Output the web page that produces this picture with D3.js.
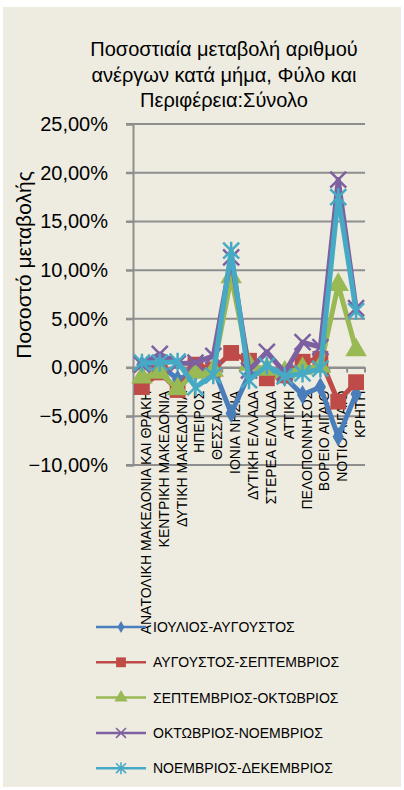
<!DOCTYPE html>
<html>
<head>
<meta charset="utf-8">
<script src="https://cdn.jsdelivr.net/npm/d3@7"></script>
<style>
  html, body { margin: 0; padding: 0; background: #fff; }
  svg { display: block; }
  text { font-family: "Liberation Sans", "DejaVu Sans", sans-serif; fill: #000; }
</style>
</head>
<body>
<svg id="chart" width="404" height="790"></svg>
<script>
// regions (x axis)
const categories = [
  'ΑΝΑΤΟΛΙΚΗ ΜΑΚΕΔΟΝΙΑ ΚΑΙ ΘΡΑΚΗ', 'ΚΕΝΤΡΙΚΗ ΜΑΚΕΔΟΝΙΑ', 'ΔΥΤΙΚΗ ΜΑΚΕΔΟΝΙΑ',
  'ΗΠΕΙΡΟΣ', 'ΘΕΣΣΑΛΙΑ', 'ΙΟΝΙΑ ΝΗΣΙΑ', 'ΔΥΤΙΚΗ ΕΛΛΑΔΑ', 'ΣΤΕΡΕΑ ΕΛΛΑΔΑ',
  'ΑΤΤΙΚΗ', 'ΠΕΛΟΠΟΝΝΗΣΟΣ', 'ΒΟΡΕΙΟ ΑΙΓΑΙΟ', 'ΝΟΤΙΟ ΑΙΓΑΙΟ', 'ΚΡΗΤΗ'
];
const seriesNames = [
  'ΙΟΥΛΙΟΣ-ΑΥΓΟΥΣΤΟΣ', 'ΑΥΓΟΥΣΤΟΣ-ΣΕΠΤΕΜΒΡΙΟΣ', 'ΣΕΠΤΕΜΒΡΙΟΣ-ΟΚΤΩΒΡΙΟΣ',
  'ΟΚΤΩΒΡΙΟΣ-ΝΟΕΜΒΡΙΟΣ', 'ΝΟΕΜΒΡΙΟΣ-ΔΕΚΕΜΒΡΙΟΣ'
];
// % change values
const julAug = [0.3, 0.3, -1.2, -0.5, 0.0, -4.7, -0.7, -0.5, -1.0, -2.8, -2.0, -7.1, -2.7];
const augSep = [-2.0, -0.5, -2.3, 0.3, -0.2, 1.5, 0.7, -1.1, -0.8, 0.6, 0.9, -3.5, -1.5];
const sepOct = [-1.0, -0.5, -2.2, -0.5, -0.3, 9.3, 0.3, -0.2, -0.5, -0.1, 0.1, 8.5, 1.8];
const octNov = [0.3, 1.4, 0.4, 0.5, 1.2, 11.3, -0.3, 1.6, -0.5, 2.6, 2.1, 19.3, 6.1];
const novDec = [0.5, 0.5, 0.6, -2.0, -0.8, 12.0, -1.3, 0.2, -0.9, -0.6, -0.1, 17.5, 5.8];
const yTicks = [25, 20, 15, 10, 5, 0, -5, -10];

const seriesValues = [julAug, augSep, sepOct, octNov, novDec];
const colors = ['#4a7ebb', '#be4b48', '#98b954', '#7d60a0', '#46aac5'];
const markers = ['diamond', 'square', 'triangle', 'x', 'star'];

const svg = d3.select('#chart');

svg.append('rect').attr('x', 3).attr('y', 7).attr('width', 398).attr('height', 780)
  .attr('fill', '#eeece1');

const plot = { left: 133, right: 365, top: 124, bottom: 465 };

const x = d3.scaleBand().domain(categories).range([plot.left, plot.right]);
const y = d3.scaleLinear().domain([-10, 25]).range([plot.bottom, plot.top]);

// title
const title = ['Ποσοστιαία μεταβολή αριθμού', 'ανέργων κατά μήμα, Φύλο και', 'Περιφέρεια:Σύνολο'];
svg.append('text')
  .attr('x', 224).attr('y', 56)
  .attr('text-anchor', 'middle')
  .style('font-size', '20px')
  .selectAll('tspan').data(title).join('tspan')
  .attr('x', 224).attr('dy', (d, i) => i ? 25.5 : 0)
  .text(d => d);

// gridlines
svg.append('g')
  .selectAll('line').data(yTicks).join('line')
  .attr('x1', plot.left - 7).attr('x2', plot.right)
  .attr('y1', d => y(d)).attr('y2', d => y(d))
  .attr('stroke', '#8e8e8e').attr('stroke-width', 2);

// y axis
const yAxis = svg.append('g')
  .attr('transform', `translate(${plot.left},0)`)
  .call(d3.axisLeft(y).tickValues(yTicks).tickSize(7).tickPadding(18)
    .tickFormat(d => d3.format('.2f')(d).replace('.', ',') + '%'));
yAxis.select('.domain').attr('stroke', '#8e8e8e').attr('stroke-width', 2);
yAxis.selectAll('.tick line').attr('stroke', '#8e8e8e').attr('stroke-width', 2);
yAxis.selectAll('.tick text').style('font-size', '20px').attr('fill', '#000')
  .style('font-family', '"Liberation Sans", sans-serif');

svg.append('text')
  .attr('transform', `translate(31,265) rotate(-90)`)
  .attr('text-anchor', 'middle')
  .style('font-size', '21px')
  .text('Ποσοστό μεταβολής');

// category axis at zero
const xAxis = svg.append('g')
  .attr('transform', `translate(0,${y(0)})`)
  .call(d3.axisBottom(x).tickSize(0).tickFormat(''));
xAxis.select('.domain').attr('stroke', '#8e8e8e').attr('stroke-width', 2);
xAxis.selectAll('line.sep').data(d3.range(categories.length + 1)).join('line')
  .attr('class', 'sep')
  .attr('x1', i => plot.left + i * x.step()).attr('x2', i => plot.left + i * x.step())
  .attr('y1', 0).attr('y2', 5)
  .attr('stroke', '#8e8e8e').attr('stroke-width', 2);

svg.append('g')
  .selectAll('text').data(categories).join('text')
  .attr('transform', d => `translate(${x(d) + x.bandwidth() / 2 + 9},${y(0) + 23}) rotate(-90)`)
  .attr('text-anchor', 'end')
  .style('font-size', '14px')
  .text(d => d);

// marker shapes
function markerPath(type, k) {
  if (type === 'diamond') return d3.symbol(d3.symbolDiamond, 110 * k * k)();
  if (type === 'square') return d3.symbol(d3.symbolSquare, 250 * k * k)();
  if (type === 'triangle') return d3.symbol(d3.symbolTriangle, 200 * k * k)();
  const r = 8 * k;
  if (type === 'x') return `M${-r},${-r}L${r},${r}M${-r},${r}L${r},${-r}`;
  return `M${-r},${-r}L${r},${r}M${-r},${r}L${r},${-r}M0,${-r - 1}L0,${r + 1}`;
}
function drawMarker(g, type, color, k) {
  const p = g.append('path').attr('d', markerPath(type, k));
  if (type === 'x' || type === 'star') p.attr('fill', 'none').attr('stroke', color).attr('stroke-width', 2.5 * k);
  else p.attr('fill', color);
}

const line = d3.line().x((d, i) => x(categories[i]) + x.bandwidth() / 2).y(d => y(d));

seriesValues.forEach((vals, s) => {
  const g = svg.append('g');
  g.append('path').datum(vals)
    .attr('d', line)
    .attr('fill', 'none')
    .attr('stroke', colors[s])
    .attr('stroke-width', 5)
    .attr('stroke-linejoin', 'round');
  vals.forEach((v, i) => {
    const m = g.append('g')
      .attr('transform', `translate(${x(categories[i]) + x.bandwidth() / 2},${y(v)})`);
    drawMarker(m, markers[s], colors[s], 1);
  });
});

// legend
const legend = svg.append('g');
seriesNames.forEach((name, s) => {
  const ly = 627 + s * 35.3;
  const item = legend.append('g');
  item.append('line').attr('x1', 96).attr('x2', 146).attr('y1', ly).attr('y2', ly)
    .attr('stroke', colors[s]).attr('stroke-width', 2.5);
  const m = item.append('g').attr('transform', `translate(121,${ly})`);
  drawMarker(m, markers[s], colors[s], 0.62);
  item.append('text').attr('x', 153).attr('y', ly + 5)
    .style('font-size', '14px')
    .text(name);
});
</script>
</body>
</html>
